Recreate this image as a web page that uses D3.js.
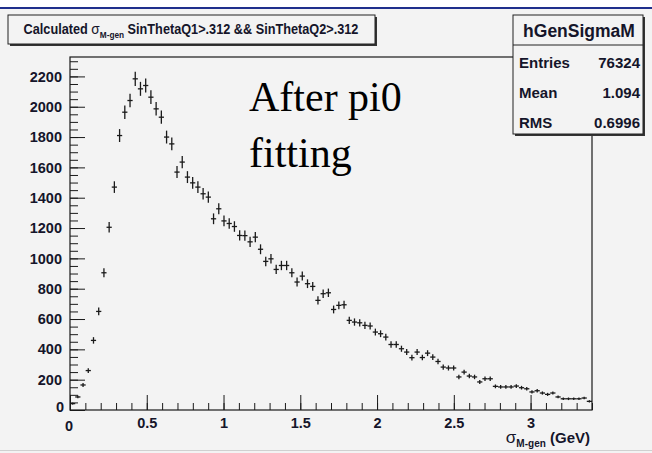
<!DOCTYPE html>
<html>
<head>
<meta charset="utf-8">
<script src="https://cdn.jsdelivr.net/npm/d3@7"></script>
<style>
  body { margin: 0; background: #ffffff; }
  svg { display: block; }
</style>
</head>
<body>
<svg id="chart" width="652" height="453" font-family="'Liberation Sans', Arial, Helvetica, sans-serif"></svg>
<script>
// ---- data (bin contents, 100 bins from 0 to 3.4 GeV) ----
const binRange = [0, 3.4];
const binCount = 100;
const counts = [
  42, 86, 165, 260, 459, 650, 905, 1205, 1470, 1810,
  1964, 2041, 2184, 2118, 2140, 2063, 1986, 1931, 1800, 1755,
  1569, 1635, 1536, 1498, 1470, 1426, 1404, 1261, 1327, 1247,
  1230, 1210, 1151, 1150, 1109, 1140, 1060, 980, 997, 927,
  953, 953, 905, 844, 883, 833, 815, 723, 767, 773,
  663, 690, 694, 591, 580, 575, 558, 554, 514, 503,
  481, 432, 432, 404, 382, 345, 382, 346, 375, 349,
  320, 283, 277, 277, 218, 250, 224, 218, 185, 206,
  206, 156, 152, 152, 152, 158, 147, 140, 119, 127,
  112, 103, 112, 86, 74, 74, 74, 74, 79, 57
];
const yMajorTicks = [0, 200, 400, 600, 800, 1000, 1200, 1400, 1600, 1800, 2000, 2200];
const xMajorTicks = [0, 0.5, 1, 1.5, 2, 2.5, 3];
const titleMain = "Calculated ";
const titleSym = "σ";
const titleSub = "M-gen";
const titleRest = " SinThetaQ1>.312 && SinThetaQ2>.312";
const statsName = "hGenSigmaM";
const statsLabels = ["Entries", "Mean", "RMS"];
const statsValues = ["76324", "1.094", "0.6996"];
const noteLines = ["After pi0", "fitting"];

// ---- layout ----
const svg = d3.select("#chart");
const L = 70, R = 592, T = 57, B = 410;
const yMax = 2328;
const x = d3.scaleLinear().domain(binRange).range([L, R]);
const y = d3.scaleLinear().domain([0, yMax]).range([B, T]);
const ink = "#1a1a1a";
const txt = "#15152a";

// page background
svg.append("rect").attr("x", 0).attr("y", 9).attr("width", 652).attr("height", 444).attr("fill", "#f3f3f3");
svg.append("line").attr("x1", 0).attr("x2", 652).attr("y1", 8).attr("y2", 8)
  .attr("stroke", "#1f2f8c").attr("stroke-width", 2);
svg.append("line").attr("x1", 0).attr("x2", 652).attr("y1", 450.5).attr("y2", 450.5)
  .attr("stroke", "#d0d0d0").attr("stroke-width", 1);

// axes ticks
const gy = svg.append("g").attr("transform", `translate(${L},0)`);
gy.call(d3.axisLeft(y).tickValues(d3.range(0, yMax, 50)).tickSize(-8).tickFormat(""));
gy.select(".domain").remove();
const gyM = svg.append("g").attr("transform", `translate(${L},0)`);
gyM.call(d3.axisLeft(y).tickValues(yMajorTicks).tickSize(-15).tickPadding(8).tickFormat(d3.format("d")));
gyM.select(".domain").remove();

const gx = svg.append("g").attr("transform", `translate(0,${B})`);
gx.call(d3.axisBottom(x).tickValues(d3.range(0, 3.41, 0.1)).tickSize(-7).tickFormat(""));
gx.select(".domain").remove();
const gxM = svg.append("g").attr("transform", `translate(0,${B})`);
gxM.call(d3.axisBottom(x).tickValues(xMajorTicks).tickSize(-15).tickPadding(8).tickFormat(d3.format("~g")));
gxM.select(".domain").remove();

svg.selectAll(".tick line").attr("stroke", ink).attr("stroke-width", 1);
svg.selectAll(".tick text").attr("fill", txt).attr("font-size", 14.5).attr("font-weight", "bold")
  .attr("font-family", "'Liberation Sans', Arial, sans-serif");
gyM.selectAll(".tick").filter(d => d === 0).select("text").attr("dy", "0.1em").attr("x", -6);
gxM.selectAll(".tick").filter(d => d === 0).select("text").attr("dx", "-0.1em").attr("dy", "0.9em");

// frame
svg.append("rect").attr("x", L).attr("y", T).attr("width", R - L).attr("height", B - T)
  .attr("fill", "none").attr("stroke", ink).attr("stroke-width", 1.2);

// data crosses
const bw = (binRange[1] - binRange[0]) / binCount;
const gd = svg.append("g").attr("stroke", ink).attr("stroke-width", 1.3);
counts.forEach((v, i) => {
  const lo = binRange[0] + i * bw, hi = lo + bw, c = lo + bw / 2;
  const e = Math.sqrt(v);
  gd.append("line").attr("x1", x(lo)).attr("x2", x(hi)).attr("y1", y(v)).attr("y2", y(v));
  gd.append("line").attr("x1", x(c)).attr("x2", x(c)).attr("y1", y(Math.max(0, v - e))).attr("y2", y(v + e));
});

// boxes
function box(x0, y0, w, h) {
  svg.append("rect").attr("x", x0 + 2).attr("y", y0 + 2).attr("width", w).attr("height", h).attr("fill", "#333");
  svg.append("rect").attr("x", x0).attr("y", y0).attr("width", w).attr("height", h)
    .attr("fill", "#f3f3f3").attr("stroke", "#222").attr("stroke-width", 1);
}
box(8, 15, 367, 29);
{
  const fs = 14.5;
  const tg = svg.append("g").attr("transform", "translate(191,34)");
  const tt = tg.append("text").attr("x", 0).attr("y", 0).attr("text-anchor", "middle")
    .attr("font-size", fs).attr("font-weight", "bold").attr("fill", txt);
  tt.append("tspan").text(titleMain);
  tt.append("tspan").attr("font-weight", "normal").attr("font-size", fs * 1.07).text(titleSym);
  tt.append("tspan").attr("font-size", fs * 0.65).attr("dy", 4).text(titleSub);
  tt.append("tspan").attr("dy", -4).text(titleRest);
  const w = tt.node().getComputedTextLength();
  const sx = Math.min(1, 335 / w);
  tg.attr("transform", `translate(191,34) scale(${sx},1)`);
}

// stats box
box(513, 15, 130, 119);
svg.append("line").attr("x1", 513).attr("x2", 643).attr("y1", 45).attr("y2", 45).attr("stroke", "#222");
svg.append("text").attr("x", 579).attr("y", 37).attr("text-anchor", "middle")
  .attr("font-size", 17.5).attr("font-weight", "bold").attr("fill", txt).text(statsName);
statsLabels.forEach((lab, i) => {
  const yy = 68 + i * 30;
  svg.append("text").attr("x", 519).attr("y", yy).attr("font-size", 15).attr("font-weight", "bold")
    .attr("fill", txt).text(lab);
  svg.append("text").attr("x", 640).attr("y", yy).attr("text-anchor", "end").attr("font-size", 15)
    .attr("font-weight", "bold").attr("fill", txt).text(statsValues[i]);
});

// axis title
const at = svg.append("text").attr("x", 590).attr("y", 443).attr("text-anchor", "end")
  .attr("font-size", 15).attr("font-weight", "bold").attr("fill", txt);
at.append("tspan").attr("font-weight", "normal").attr("font-size", 17).text("σ");
at.append("tspan").attr("font-size", 10).attr("dy", 4).text("M-gen");
at.append("tspan").attr("dy", -4).text(" (GeV)");

// note
noteLines.forEach((t, i) => {
  svg.append("text").attr("x", 249).attr("y", 111 + i * 56)
    .style("font-family", "'Liberation Serif', 'Times New Roman', serif")
    .attr("font-size", 42).attr("fill", "#000").text(t);
});
</script>
</body>
</html>
